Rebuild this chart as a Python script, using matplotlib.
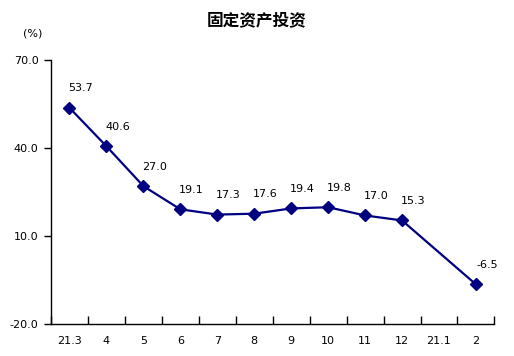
import matplotlib
matplotlib.use("Agg")
import matplotlib.pyplot as plt
import numpy as np

plt.rcParams['font.family'] = ['Noto Sans CJK SC', 'DejaVu Sans']

categories = ["21.3", "4", "5", "6", "7", "8", "9", "10", "11", "12", "21.1", "2"]
values = [53.7, 40.6, 27.0, 19.1, 17.3, 17.6, 19.4, 19.8, 17.0, 15.3, None, -6.5]
labels = ["53.7", "40.6", "27.0", "19.1", "17.3", "17.6", "19.4", "19.8", "17.0", "15.3", None, "-6.5"]
yticks = [-20.0, 10.0, 40.0, 70.0]

fig = plt.figure(figsize=(5.14, 3.56), dpi=100)
ax = fig.add_axes([0.0992, 0.0899, 0.8627, 0.7416])

xs = [i for i, v in enumerate(values) if v is not None]
ys = [v for v in values if v is not None]
color = "#000080"
ax.plot(xs, ys, color=color, lw=1.6, marker="D", markersize=6.5, zorder=3)

for i, (v, lab) in enumerate(zip(values, labels)):
    if v is None:
        continue
    ax.annotate(lab, (i, v), xytext=(8, 14), textcoords="offset points",
                ha="center", va="center", fontsize=8, family="DejaVu Sans")

ax.set_xlim(-0.5, len(categories) - 0.5)
ax.set_ylim(-20, 70)
ax.set_yticks(yticks)
ax.set_yticklabels([f"{t:.1f}" for t in yticks], fontsize=8, family="DejaVu Sans")
ax.set_xticks(range(len(categories)))
ax.set_xticklabels(categories, fontsize=8, family="DejaVu Sans")
ax.set_xticks(np.arange(-0.5, len(categories), 1.0), minor=True)
ax.tick_params(axis="x", which="major", length=0, pad=9)
ax.tick_params(axis="x", which="minor", length=6, direction="in", width=1)
ax.tick_params(axis="y", length=5, direction="out", width=1, pad=4)

for s in ["top", "right"]:
    ax.spines[s].set_visible(False)
for s in ["left", "bottom"]:
    ax.spines[s].set_linewidth(1.0)

fig.text(0.5, 0.944, "固定资产投资", ha="center", va="center", fontsize=12, fontweight="bold")
fig.text(0.063, 0.905, "(%)", ha="center", va="center", fontsize=8, family="DejaVu Sans")

fig.savefig("out.png", dpi=100)
